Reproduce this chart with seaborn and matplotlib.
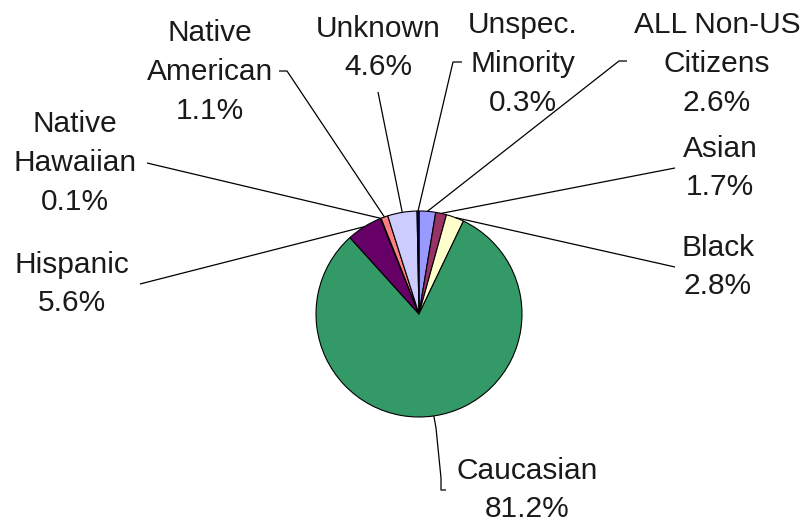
"""
Pizza da composição étnica — recriação do gráfico de referência.
"""

import numpy as np
import matplotlib
matplotlib.use("Agg")
import matplotlib.pyplot as plt
import seaborn as sns

# ── Dados ──────────────────────────────────────────────────────────────────────
CATEGORIES = [
    "ALL Non-US\nCitizens", "Asian", "Black", "Caucasian", "Hispanic",
    "Native\nHawaiian", "Native\nAmerican", "Unknown", "Unspec.\nMinority",
]
SHARES = [2.6, 1.7, 2.8, 81.2, 5.6, 0.1, 1.1, 4.6, 0.3]
COLORS = ["#9999FF", "#993366", "#FFFFCC", "#339966", "#660066",
          "#0066CC", "#FF8080", "#CCCCFF", "#000080"]

# ── Layout (pixels da figura, y para baixo) ────────────────────────────────────
W, H = 809, 527
CENTER = (419, 314)
RADIUS = 103

# (centro do texto, pontos da linha de chamada a partir do texto)
LABEL_LAYOUT = {
    "ALL Non-US\nCitizens": ((717, 64), [(627, 61), (619, 61)]),
    "Asian":                ((720, 168), [(675, 168)]),
    "Black":                ((718, 267), [(675, 267)]),
    "Caucasian":            ((527, 490), [(446, 490), (441, 490), (441, 478), (436, 428)]),
    "Hispanic":             ((72, 284), [(140, 284)]),
    "Native\nHawaiian":     ((75, 163), [(147, 163)]),
    "Native\nAmerican":     ((210, 72), [(279, 71), (287, 71)]),
    "Unknown":              ((378, 48), [(378, 92)]),
    "Unspec.\nMinority":    ((523, 64), [(462, 62), (453, 62)]),
}


def _px(x, y):
    return x, H - y


def main() -> None:
    sns.set_style("white")
    plt.rcParams["font.family"] = ["Liberation Sans", "DejaVu Sans"]

    fig = plt.figure(figsize=(W / 100, H / 100), dpi=100)
    ax = fig.add_axes([0, 0, 1, 1])

    wedges, _ = ax.pie(
        SHARES, colors=sns.color_palette(COLORS), startangle=90, counterclock=False,
        center=_px(*CENTER), radius=RADIUS,
        wedgeprops={"edgecolor": "black", "linewidth": 0.8},
    )

    for wedge, cat, share in zip(wedges, CATEGORIES, SHARES):
        (tx, ty), pts = LABEL_LAYOUT[cat]
        ax.text(*_px(tx, ty), f"{cat}\n{share:.1f}%", ha="center", va="center",
                fontsize=21.5, color="#1a1a1a", linespacing=1.48)
        mid = np.deg2rad((wedge.theta1 + wedge.theta2) / 2)
        cx, cy = _px(*CENTER)
        end = (cx + RADIUS * np.cos(mid), cy + RADIUS * np.sin(mid))
        xs = [_px(*p)[0] for p in pts] + [end[0]]
        ys = [_px(*p)[1] for p in pts] + [end[1]]
        ax.plot(xs, ys, color="black", linewidth=0.9, solid_capstyle="butt")

    ax.set_xlim(0, W)
    ax.set_ylim(0, H)
    ax.set_aspect("equal")
    ax.axis("off")
    fig.savefig("out.png", dpi=100, facecolor="white")
    plt.close(fig)


if __name__ == "__main__":
    main()
